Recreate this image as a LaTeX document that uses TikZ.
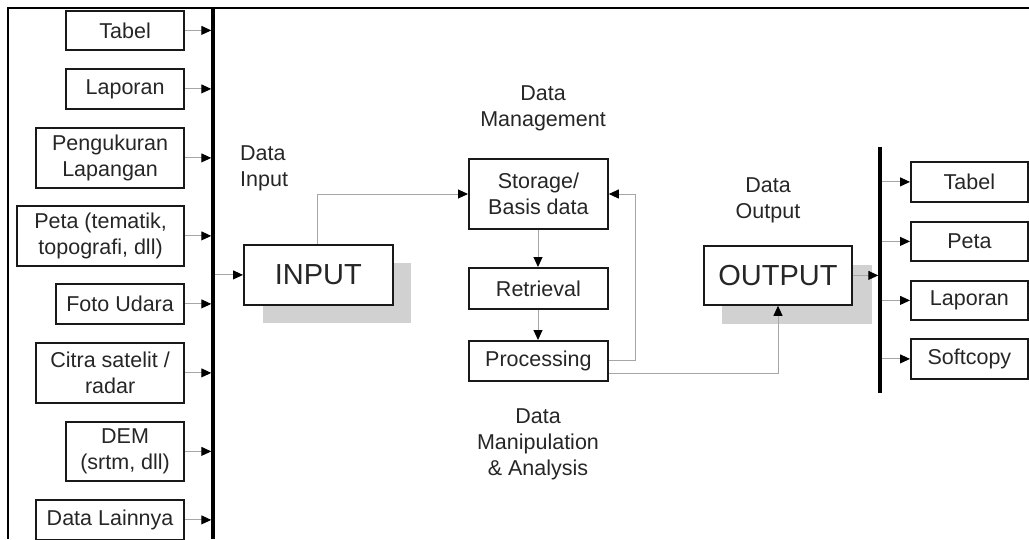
\documentclass[tikz,border=0pt]{standalone}
\usepackage{fontspec}
\setmainfont{Liberation Sans}
\usetikzlibrary{arrows.meta}
\begin{document}
\begin{tikzpicture}[x=1pt,y=-1pt,
  box/.style={draw=black!90, line width=1.8pt, inner sep=0pt, align=center,
    font=\fontsize{21.5}{26}\selectfont, text=black!85},
  bigbox/.style={box, fill=white, font=\fontsize{29}{34}\selectfont},
  shadowbox/.style={fill=black!18, draw=none},
  lbl/.style={font=\fontsize{21.5}{26}\selectfont, text=black!85, inner sep=0pt},
  arr/.style={draw=black!35, line width=1pt,
    -{Triangle[length=10pt,width=9pt,color=black]}},
  ln/.style={draw=black!35, line width=1pt},
  busline/.style={line width=3.5pt, black},
  frame/.style={line width=2.5pt, black}]
\useasboundingbox (0,0) rectangle (1029,539);

% frame
\coordinate (fTL) at (8,8);
\coordinate (fTR) at (1029,8);
\coordinate (fBL) at (8,539);
\draw[frame] (fTR) -- (fTL) -- (fBL);

% input bus
\coordinate (busT) at (213,8);
\coordinate (busB) at (213,539);
\draw[busline] (busT) -- (busB);

% left boxes
\node[box, anchor=north east, minimum width=118, minimum height=39] (tabelL) at (185,10) {Tabel};
\node[box, anchor=north east, minimum width=118, minimum height=40] (laporanL) at (185,68) {Laporan};
\node[box, anchor=north east, minimum width=148, minimum height=60] (ukur) at (185,127) {Pengukuran\\Lapangan};
\node[box, anchor=north east, minimum width=167, minimum height=60] (peta) at (185,205) {Peta (tematik,\\topografi, dll)};
\node[box, anchor=north east, minimum width=128, minimum height=40] (foto) at (185,283) {Foto Udara};
\node[box, anchor=north east, minimum width=148, minimum height=60] (citra) at (185,342) {Citra satelit /\\radar};
\node[box, anchor=north east, minimum width=118, minimum height=59] (dem) at (185,421) {DEM\\(srtm, dll)};
\node[box, anchor=north east, minimum width=148, minimum height=40] (lain) at (185,499) {Data Lainnya};

\foreach \n in {tabelL,laporanL,ukur,peta,foto,citra,dem,lain}
  \draw[arr, shorten >=1.75pt] (\n.east) -- (\n.east -| busT);

% INPUT
\fill[shadowbox] (263,263) rectangle (411,323);
\node[bigbox, anchor=north west, minimum width=149, minimum height=60] (input) at (243,244) {INPUT};
\draw[arr] (busT |- input.west) ++(1.75,0) -- (input.west);
\node[lbl, align=left, anchor=north west] (dinput) at (240,146) {Data\\Input};

% data management
\node[lbl, align=center] (dmgmt) at (543,108) {Data\\Management};
\node[box, anchor=north west, minimum width=139, minimum height=70] (storage) at (468,158) {Storage/\\Basis data};
\node[box, anchor=north west, minimum width=139, minimum height=41] (retr) at (468,267) {Retrieval};
\node[box, anchor=north west, minimum width=139, minimum height=40] (proc) at (468,340) {Processing};
\node[lbl, align=center] (dmanip) at (538,444) {Data\\Manipulation\\\& Analysis};

\coordinate (inUp) at (317,194);
\draw[arr] (input.north -| inUp) -- (inUp) -- (storage.west |- inUp);
\draw[arr] (storage.south -| 538,0) -- (retr.north -| 538,0);
\draw[arr] (retr.south -| 538,0) -- (proc.north -| 538,0);

\coordinate (fbR) at (635,360);
\coordinate (fbT) at (635,194);
\draw[arr] (proc.east |- fbR) -- (fbR) -- (fbT) -- (storage.east |- fbT);

% OUTPUT
\fill[shadowbox] (722,265) rectangle (872,324);
\node[bigbox, anchor=north west, minimum width=148, minimum height=59] (output) at (703,245) {OUTPUT};
\node[lbl, align=center] (doutput) at (768,200) {Data\\Output};
\coordinate (poR) at (778,373);
\draw[arr] (proc.east |- poR) -- (poR) -- (output.south -| poR);

% output bus
\coordinate (obusT) at (880,147);
\coordinate (obusB) at (880,393);
\draw[busline] (obusT) -- (obusB);
\draw[arr, shorten >=1.75pt] (output.east) -- (output.east -| obusT);

\node[box, anchor=north west, minimum width=117, minimum height=40] (tabelR) at (910,161) {Tabel};
\node[box, anchor=north west, minimum width=117, minimum height=39] (petaR) at (910,221) {Peta};
\node[box, anchor=north west, minimum width=117, minimum height=39] (laporanR) at (910,280) {Laporan};
\node[box, anchor=north west, minimum width=117, minimum height=40] (soft) at (910,338) {Softcopy};
\foreach \n in {tabelR,petaR,laporanR,soft}
  \draw[arr] (obusT |- \n.west) ++(1.75,0) -- (\n.west);
\end{tikzpicture}
\end{document}
